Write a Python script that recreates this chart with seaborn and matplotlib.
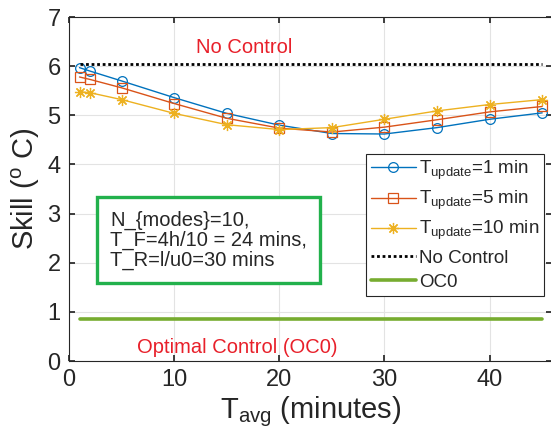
import numpy as np
import pandas as pd
import matplotlib
matplotlib.use('Agg')
import matplotlib.pyplot as plt
import seaborn as sns

# data
t_avg = [1, 2, 5, 10, 15, 20, 25, 30, 35, 40, 45]
skill_1min = [5.97, 5.90, 5.70, 5.36, 5.04, 4.80, 4.63, 4.62, 4.75, 4.92, 5.05]
skill_5min = [5.78, 5.73, 5.56, 5.24, 4.94, 4.74, 4.66, 4.76, 4.91, 5.07, 5.18]
skill_10min = [5.48, 5.46, 5.32, 5.04, 4.81, 4.71, 4.75, 4.92, 5.09, 5.22, 5.32]
no_control_x = [1, 45]
no_control_y = [6.04, 6.04]
oc0_x = [1, 45]
oc0_y = [0.86, 0.86]

series_labels = [r'T$_{\rm update}$=1 min', r'T$_{\rm update}$=5 min', r'T$_{\rm update}$=10 min']
series_colors = ['#0072BD', '#D95319', '#EDB120']
series_markers = ['o', 's', (8, 2, 0)]
marker_sizes = [7, 6.5, 8]

sns.set_theme(style='whitegrid')
plt.rcParams['font.family'] = ['Liberation Sans', 'DejaVu Sans']
plt.rcParams['mathtext.fontset'] = 'custom'
plt.rcParams['mathtext.rm'] = 'Liberation Sans'
plt.rcParams['mathtext.it'] = 'Liberation Sans:italic'

fig = plt.figure(figsize=(5.51, 4.48), dpi=100)
ax = fig.add_axes([0.1252, 0.194, 0.876, 0.768])

for vals, lab, col, mk, ms in zip([skill_1min, skill_5min, skill_10min],
                                  series_labels, series_colors, series_markers,
                                  marker_sizes):
    df = pd.DataFrame({'t': t_avg, 'skill': vals})
    sns.lineplot(data=df, x='t', y='skill', ax=ax, color=col, linewidth=1.0,
                 marker=mk, markersize=ms,
                 markerfacecolor='none', markeredgecolor=col,
                 markeredgewidth=0.9, label=lab)

sns.lineplot(x=no_control_x, y=no_control_y, ax=ax, color='black',
             linestyle=(0, (1, 1)), linewidth=2.0, label='No Control')
sns.lineplot(x=oc0_x, y=oc0_y, ax=ax, color='#77AC30', linewidth=2.6, label='OC0')

ax.text(16.7, 6.37, 'No Control', color='#E8202A', fontsize=14.5, ha='center', va='center')
ax.text(16.0, 0.285, 'Optimal Control (OC0)', color='#E8202A', fontsize=14.5,
        ha='center', va='center')
ax.text(3.9, 2.46, 'N_{modes}=10,\nT_F=4h/10 = 24 mins,\nT_R=l/u0=30 mins',
        fontsize=14.5, ha='left', va='center', linespacing=1.05,
        bbox=dict(boxstyle='square,pad=0.65', facecolor='white',
                  edgecolor='#22B14C', linewidth=2.4))

ax.set_xlim(0, 45.9)
ax.set_ylim(0, 7)
ax.set_xticks([0, 10, 20, 30, 40])
ax.set_yticks(range(0, 8))
ax.tick_params(labelsize=17, colors='#262626', direction='in', length=4,
               top=True, right=True, bottom=True, left=True, pad=6)
ax.grid(True, color='#e3e3e3', linewidth=0.8)
for s in ax.spines.values():
    s.set_color('#262626')
    s.set_linewidth(0.8)

ax.set_xlabel(r'T$_{\rm avg}$ (minutes)', fontsize=21, color='#262626', labelpad=2)
ax.set_ylabel(r'Skill ($^{\rm o}$ C)', fontsize=21, color='#262626', labelpad=4)

leg = ax.legend(loc='upper right', bbox_to_anchor=(0.985, 0.602), borderaxespad=0,
                fontsize=13.5, handlelength=2.4, handletextpad=0.2, labelspacing=0.38,
                borderpad=0.25, frameon=True, fancybox=False, framealpha=1)
leg.get_frame().set_edgecolor('#262626')
leg.get_frame().set_linewidth(0.8)

fig.savefig('out.png', dpi=100)
